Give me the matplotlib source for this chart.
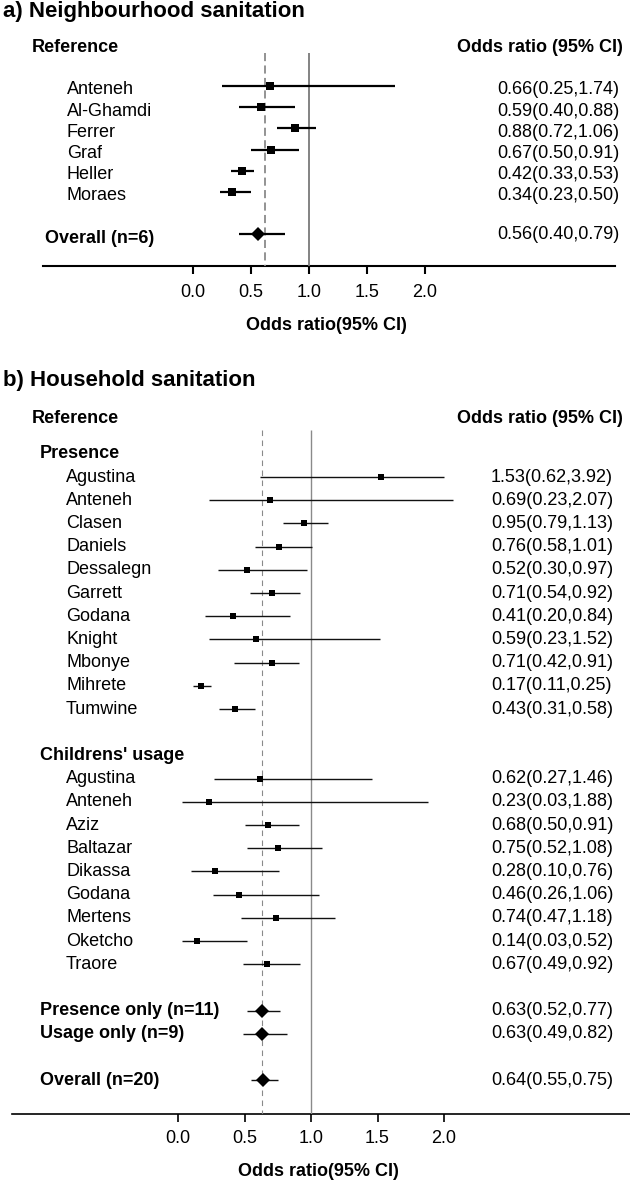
import numpy as np
import matplotlib
matplotlib.use("Agg")
import matplotlib.pyplot as plt

plt.rcParams['font.family'] = ['Liberation Sans', 'DejaVu Sans']

# ---- a) neighbourhood sanitation
nb_names = ['Anteneh', 'Al-Ghamdi', 'Ferrer', 'Graf', 'Heller', 'Moraes']
nb_or = [0.66, 0.59, 0.88, 0.67, 0.42, 0.34]
nb_lo = [0.25, 0.40, 0.72, 0.50, 0.33, 0.23]
nb_hi = [1.74, 0.88, 1.06, 0.91, 0.53, 0.50]
nb_sum_label = 'Overall (n=6)'
nb_sum = [0.56, 0.40, 0.79]
nb_dash = 0.62

# ---- b) household sanitation
pres_names = ['Agustina', 'Anteneh', 'Clasen', 'Daniels', 'Dessalegn', 'Garrett',
              'Godana', 'Knight', 'Mbonye', 'Mihrete', 'Tumwine']
pres_or = [1.53, 0.69, 0.95, 0.76, 0.52, 0.71, 0.41, 0.59, 0.71, 0.17, 0.43]
pres_lo = [0.62, 0.23, 0.79, 0.58, 0.30, 0.54, 0.20, 0.23, 0.42, 0.11, 0.31]
pres_hi = [3.92, 2.07, 1.13, 1.01, 0.97, 0.92, 0.84, 1.52, 0.91, 0.25, 0.58]

use_names = ['Agustina', 'Anteneh', 'Aziz', 'Baltazar', 'Dikassa', 'Godana',
             'Mertens', 'Oketcho', 'Traore']
use_or = [0.62, 0.23, 0.68, 0.75, 0.28, 0.46, 0.74, 0.14, 0.67]
use_lo = [0.27, 0.03, 0.50, 0.52, 0.10, 0.26, 0.47, 0.03, 0.49]
use_hi = [1.46, 1.88, 0.91, 1.08, 0.76, 1.06, 1.18, 0.52, 0.92]

hh_sum_labels = ['Presence only (n=11)', 'Usage only (n=9)', 'Overall (n=20)']
hh_sum_or = [0.63, 0.63, 0.64]
hh_sum_lo = [0.52, 0.49, 0.55]
hh_sum_hi = [0.77, 0.82, 0.75]
hh_dash = 0.63

ticks = [0.0, 0.5, 1.0, 1.5, 2.0]

W, H = 630, 1183
FS = 13
fig = plt.figure(figsize=(W / 100, H / 100), dpi=100)


def fmt(o, l, h):
    return f'{o:.2f}({l:.2f},{h:.2f})'


def make_panel(top, bottom, zero_px, unit_px, line_x, lw_axis, tick_pad):
    ax = fig.add_axes([0, 1 - bottom / H, 1, (bottom - top) / H])
    ax.set_xlim(-zero_px / unit_px, (W - zero_px) / unit_px)
    ax.set_ylim(bottom, top)
    for s in ax.spines.values():
        s.set_visible(False)
    ax.set_yticks([])
    ax.set_xticks(ticks)
    ax.set_xticklabels([f'{t:.1f}' for t in ticks])
    ax.tick_params(axis='x', direction='out', length=6, width=lw_axis,
                   labelsize=FS, pad=tick_pad)
    ax.axhline(bottom, xmin=line_x[0] / W, xmax=line_x[1] / W,
               color='black', lw=lw_axis, clip_on=False)
    return ax


# ================= panel a =================
axa = make_panel(0, 266, 193, 116, (43, 615), 1.5, 6.8)
tra = axa.get_yaxis_transform()
fig.text(3 / W, 1 - 12 / H, 'a) Neighbourhood sanitation', fontsize=16,
         fontweight='bold', ha='left', va='center')
axa.text(32 / W, 48, 'Reference', transform=tra, fontsize=FS, fontweight='bold', va='center')
axa.text(623 / W, 48, 'Odds ratio (95% CI)', transform=tra, fontsize=FS,
         fontweight='bold', va='center', ha='right')

axa.vlines(1.0, 53, 266, color='#7a7a7a', lw=1.3)
axa.vlines(nb_dash, 53, 266, color='#8a8a8a', lw=1.3, linestyles=(0, (4.5, 2.4)))

rows_a = 90 + 21.2 * np.arange(len(nb_names))
mk_a = rows_a - 4
axa.hlines(mk_a, nb_lo, nb_hi, color='black', lw=1.6)
axa.plot(nb_or, mk_a, 's', color='black', ms=5.4, mew=0)
for y, n, o, l, h in zip(rows_a, nb_names, nb_or, nb_lo, nb_hi):
    axa.text(67 / W, y, n, transform=tra, fontsize=FS, va='center')
    axa.text(497 / W, y, fmt(o, l, h), transform=tra, fontsize=FS, va='center')

y_sum = 90 + 21.2 * 7
axa.hlines(y_sum - 4, nb_sum[1], nb_sum[2], color='black', lw=1.6)
axa.plot(nb_sum[0], y_sum - 4, 'D', color='black', ms=7.0, mew=0)
axa.text(45 / W, y_sum, nb_sum_label, transform=tra, fontsize=FS,
         fontweight='bold', va='center')
axa.text(497 / W, y_sum - 4, fmt(*nb_sum), transform=tra, fontsize=FS, va='center')
axa.text(326 / W, 326, 'Odds ratio(95% CI)', transform=tra, fontsize=FS,
         fontweight='bold', ha='center', va='center')

# ================= panel b =================
axb = make_panel(340, 1114, 178, 133, (12, 630), 1.2, 5.4)
trb = axb.get_yaxis_transform()
fig.text(3 / W, 1 - 380 / H, 'b) Household sanitation', fontsize=16,
         fontweight='bold', ha='left', va='center')
axb.text(32 / W, 418, 'Reference', transform=trb, fontsize=FS, fontweight='bold', va='center')
axb.text(623 / W, 418, 'Odds ratio (95% CI)', transform=trb, fontsize=FS,
         fontweight='bold', va='center', ha='right')

axb.vlines(1.0, 430, 1114, color='#8a8a8a', lw=1.0)
axb.vlines(hh_dash, 430, 1114, color='#8a8a8a', lw=0.8, linestyles=(0, (5, 4)))

step = 23.2
y0 = 477


def study_rows(start_idx, names, o, lo, hi):
    ys = y0 + step * (start_idx + np.arange(len(names)))
    hi_drawn = np.where(np.array(hi) > 3, 2.0, hi)  # far off-scale CI truncated
    axb.hlines(ys, lo, hi_drawn, color='#111111', lw=1.0)
    axb.plot(o, ys, 's', color='black', ms=4.8, mew=0)
    for y, n, a, l, h in zip(ys, names, o, lo, hi):
        axb.text(66 / W, y, n, transform=trb, fontsize=FS, va='center')
        axb.text(491 / W, y, fmt(a, l, h), transform=trb, fontsize=FS, va='center')


axb.text(40 / W, y0 - step, 'Presence', transform=trb, fontsize=FS,
         fontweight='bold', va='center')
study_rows(0, pres_names, pres_or, pres_lo, pres_hi)
axb.text(40 / W, y0 + step * 12, "Childrens' usage", transform=trb, fontsize=FS,
         fontweight='bold', va='center')
study_rows(13, use_names, use_or, use_lo, use_hi)

ys_sum = y0 + step * np.array([23, 24, 26])
axb.hlines(ys_sum, hh_sum_lo, hh_sum_hi, color='#111111', lw=1.0)
axb.plot(hh_sum_or, ys_sum, 'D', color='black', ms=7.6, mew=0)
for y, n, o, l, h in zip(ys_sum, hh_sum_labels, hh_sum_or, hh_sum_lo, hh_sum_hi):
    axb.text(40 / W, y, n, transform=trb, fontsize=FS, fontweight='bold', va='center')
    axb.text(491 / W, y, fmt(o, l, h), transform=trb, fontsize=FS, va='center')

axb.text(318 / W, 1172, 'Odds ratio(95% CI)', transform=trb, fontsize=FS,
         fontweight='bold', ha='center', va='center')

fig.savefig('out.png', dpi=100, facecolor='white')
